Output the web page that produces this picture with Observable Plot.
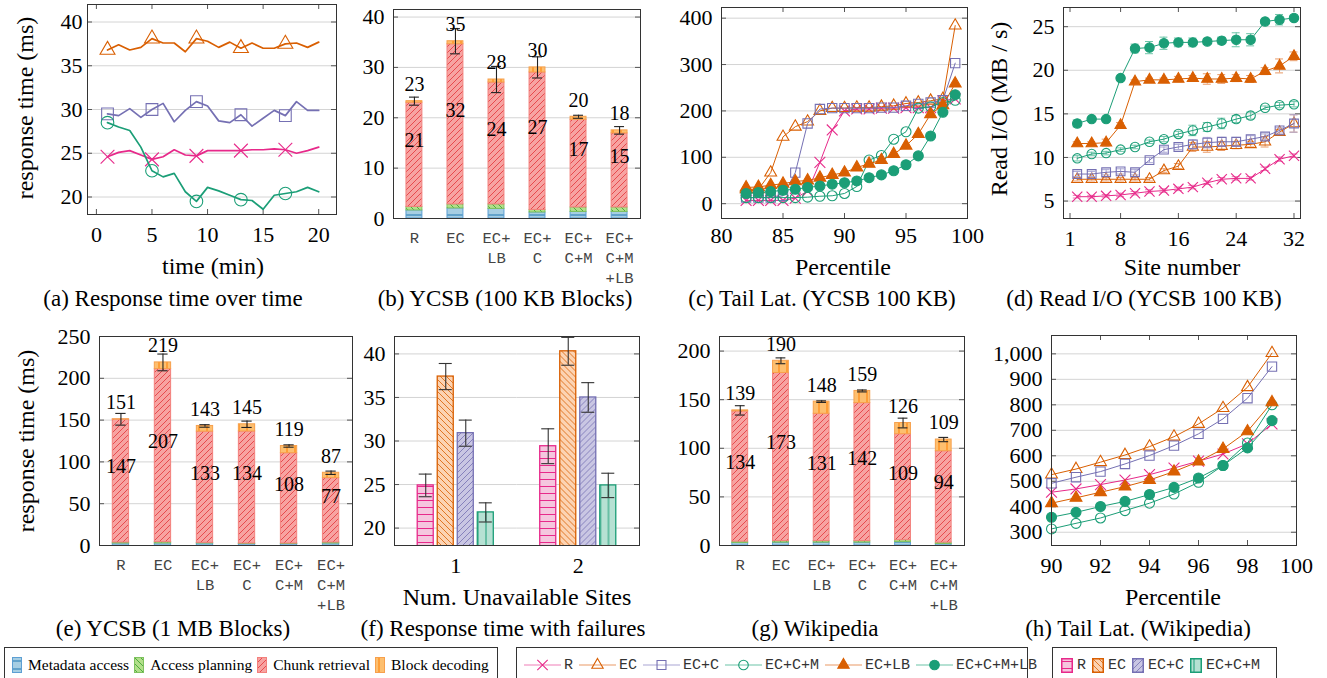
<!DOCTYPE html>
<html>
<head>
<meta charset="utf-8">
<script src="https://cdn.jsdelivr.net/npm/d3@7"></script>
<script src="https://cdn.jsdelivr.net/npm/@observablehq/plot@0.6"></script>
<style>
html,body{margin:0;padding:0;background:#fff;}
#root{position:relative;width:1327px;height:678px;overflow:hidden;background:#fff;font-family:"Liberation Serif","Times New Roman",serif;color:#000;}
.frame{position:absolute;border:1px solid #333;box-sizing:border-box;pointer-events:none;}
.lbl{position:absolute;white-space:nowrap;line-height:1;}
.leg{position:absolute;border:1px solid #333;box-sizing:border-box;display:flex;align-items:center;padding-bottom:8px;}
.item{display:flex;align-items:center;white-space:nowrap;}
.item svg{display:block;}
</style>
</head>
<body>
<svg width="0" height="0" style="position:absolute">
<defs>
 <pattern id="hMeta" patternUnits="userSpaceOnUse" width="8" height="8">
  <rect width="8" height="8" fill="#a6cee3"/><path d="M0 4H8" stroke="#1f78b4" stroke-width="1"/>
 </pattern>
 <pattern id="hPlan" patternUnits="userSpaceOnUse" width="6" height="6">
  <rect width="6" height="6" fill="#b2df8a"/><path d="M0 0L6 6M-1 5L1 7M5 -1L7 1" stroke="#33a02c" stroke-width="0.8"/>
 </pattern>
 <pattern id="hChunk" patternUnits="userSpaceOnUse" width="6" height="6">
  <rect width="6" height="6" fill="#f7a3a1"/><path d="M0 6L6 0M-1 1L1 -1M5 7L7 5" stroke="#e0242a" stroke-width="0.7"/>
 </pattern>
 <pattern id="hDec" patternUnits="userSpaceOnUse" width="8" height="8">
  <rect width="8" height="8" fill="#fdbf6f"/><path d="M4 0V8" stroke="#ff7f00" stroke-width="1"/>
 </pattern>
 <pattern id="fR" patternUnits="userSpaceOnUse" width="8" height="7">
  <rect width="8" height="7" fill="#f5c6de"/><path d="M0 3.5H8" stroke="#e7298a" stroke-width="1"/>
 </pattern>
 <pattern id="fEC" patternUnits="userSpaceOnUse" width="6" height="6">
  <rect width="6" height="6" fill="#fcd3b2"/><path d="M0 0L6 6M-1 5L1 7M5 -1L7 1" stroke="#d95f02" stroke-width="0.8"/>
 </pattern>
 <pattern id="fECC" patternUnits="userSpaceOnUse" width="6" height="6">
  <rect width="6" height="6" fill="#c9c6e3"/><path d="M0 6L6 0M-1 1L1 -1M5 7L7 5" stroke="#7570b3" stroke-width="0.8"/>
 </pattern>
 <pattern id="fECCM" patternUnits="userSpaceOnUse" width="8" height="8">
  <rect width="8" height="8" fill="#b6e1d3"/><path d="M4 0V8" stroke="#1b9e77" stroke-width="1"/>
 </pattern>
</defs>
</svg>
<div id="root"></div>
<script>
// ======================= DATA =======================
// (a) response time over time
const aTime = [1,2,3,4,5,6,7,8,9,10,11,12,13,14,15,16,17,18,19,20];
const aR    = [24.6,25.1,25.3,24.8,24.3,24.6,25.4,24.8,24.7,25.3,25.3,25.3,25.3,25.4,25.4,25.5,25.4,25.0,25.3,25.7];
const aEC   = [36.8,37.4,36.8,37.1,38.1,37.6,37.6,36.6,38.1,37.8,37.1,37.7,37.0,37.6,37.0,37.0,37.5,37.6,37.1,37.7];
const aECC  = [29.5,29.3,30.1,29.1,30.0,30.7,28.6,29.9,30.9,30.4,28.7,28.5,29.4,28.1,29.0,29.9,29.3,30.9,29.9,29.9];
const aECCM = [28.5,28.0,27.6,25.7,23.0,22.3,22.7,20.6,19.5,21.1,20.7,20.2,19.7,19.6,18.6,20.2,20.4,20.6,21.1,20.6];
const aXTicks = [0,5,10,15,20];
const aYTicks = [20,25,30,35,40];

// stacked bar panels (b), (e), (g)
const barCats = ["R","EC","EC+LB","EC+C","EC+C+M","EC+C+M+LB"];
const barCatLabels = ["R","EC","EC+\nLB","EC+\nC","EC+\nC+M","EC+\nC+M\n+LB"];
const compNames = ["Metadata access","Access planning","Chunk retrieval","Block decoding"];

// (b) YCSB 100 KB
const bMeta  = [1.6,2.0,1.9,1.2,1.3,1.3];
const bPlan  = [0.7,0.8,0.9,0.5,0.9,0.9];
const bChunk = [20.7,31.8,24.2,27.3,17.4,14.7];
const bDec   = [0.3,0.6,0.6,1.0,0.6,0.6];
const bErr   = [0.8,2.5,2.6,2.1,0.3,0.75];
const bTotalLbl = ["23","35","28","30","20","18"];
const bChunkLbl = ["21","32","24","27","17","15"];
const bYTicks = [0,10,20,30,40];

// (e) YCSB 1 MB
const eMeta  = [2.4,2.5,2.4,1.8,1.8,2.4];
const ePlan  = [1.2,1.5,0.8,0.6,0.6,1.2];
const eChunk = [147,207,133,134,108,77];
const eDec   = [0.4,8.0,6.8,8.6,8.6,6.4];
const eErr   = [7,10,1.5,3.8,1.4,2];
const eTotalLbl = ["151","219","143","145","119","87"];
const eChunkLbl = ["147","207","133","134","108","77"];
const eYTicks = [0,50,100,150,200,250];

// (g) Wikipedia
const gMeta  = [2.5,3.0,3.0,3.0,3.5,1.5];
const gPlan  = [1.5,1.5,1.5,1.5,2.0,1.5];
const gChunk = [134,173,131,142,109,94];
const gDec   = [1.0,12.5,12.5,12.5,11.5,12.0];
const gErr   = [4.8,3,0.8,1,5,2.2];
const gTotalLbl = ["139","190","148","159","126","109"];
const gChunkLbl = ["134","173","131","142","109","94"];
const gYTicks = [0,50,100,150,200];

// (c) tail latency YCSB 100 KB
const cPct = [82,83,84,85,86,87,88,89,90,91,92,93,94,95,96,97,98,99];
const cR      = [7,7,7,7,12,27,89,159,200,204,204,206,206,207,207,207,222,226];
const cEC     = [31,31,67,144,166,177,200,206,206,207,207,209,211,216,218,222,226,384];
const cECC    = [13,13,13,17,67,173,204,206,206,206,206,207,207,211,215,218,223,303];
const cECCM   = [13,13,13,13,13,14,16,17,22,37,94,104,139,155,206,209,218,223];
const cECLB   = [35,36,40,43,48,50,56,62,67,78,86,94,107,125,150,193,212,259];
const cECCMLB = [22,24,26,29,31,35,38,42,45,49,56,62,71,84,103,146,197,235];
const cXTicks = [80,85,90,95,100];
const cYTicks = [0,100,200,300,400];

// (d) read I/O per site
const dSite = [2,4,6,8,10,12,14,16,18,20,22,24,26,28,30,32];
const dR      = [5.5,5.5,5.6,5.7,5.9,6.1,6.2,6.4,6.6,7.1,7.5,7.6,7.6,8.7,9.8,10.2];
const dEC     = [7.5,7.5,7.5,7.5,7.5,7.5,8.5,9.0,11.2,11.2,11.3,11.4,11.5,11.8,12.9,13.9];
const dECC    = [8.1,8.1,8.3,8.4,8.3,9.7,10.9,11.2,11.5,11.7,11.8,11.8,12.1,12.4,13.1,13.9];
const dECCM   = [9.9,10.4,10.5,10.9,11.2,11.8,12.1,12.7,13.1,13.5,13.9,14.4,14.8,15.7,16.0,16.1];
const dECLB   = [11.6,11.6,11.7,13.7,18.7,18.9,18.9,19.0,19.1,19.0,19.0,19.1,19.0,19.9,20.5,21.6];
const dECCMLB = [13.9,14.4,14.4,19.1,22.5,22.6,23.1,23.2,23.2,23.3,23.4,23.5,23.5,25.6,25.8,26.0];
const dRErr      = [0.15,0.15,0.15,0.2,0.2,0.2,0.2,0.2,0.2,0.2,0.2,0.2,0.2,0.2,0.25,0.2];
const dECErr     = [0.2,0.2,0.2,0.2,0.2,0.2,0.2,0.3,0.5,0.6,0.5,0.4,0.3,0.6,0.3,1.0];
const dECCErr    = [0.3,0.3,0.3,0.3,0.3,0.3,0.3,0.3,0.5,0.6,0.5,0.5,0.4,0.3,0.3,1.0];
const dECCMErr   = [0.3,0.2,0.2,0.2,0.2,0.2,0.3,0.3,0.6,0.5,0.6,0.4,0.4,0.2,0.3,0.3];
const dECLBErr   = [0.2,0.2,0.4,0.3,0.2,0.2,0.2,0.3,0.3,0.6,0.5,0.4,0.4,0.4,0.8,0.5];
const dECCMLBErr = [0.4,0.2,0.2,0.2,0.5,0.7,0.7,0.5,0.5,0.3,0.4,0.8,0.7,0.2,0.6,0.3];
const dXTicks = [1,8,16,24,32];
const dYTicks = [5,10,15,20,25];

// (f) response time with failures
const fGroups = [1,2];
const fSeries = ["R","EC","EC+C","EC+C+M"];
const fVals1 = [24.9,37.4,30.9,21.8];
const fErr1  = [1.3,1.5,1.5,1.1];
const fVals2 = [29.4,40.3,35.0,24.9];
const fErr2  = [2.0,1.6,1.7,1.4];
const fYTicks = [20,25,30,35,40];

// (h) tail latency Wikipedia
const hPct = [90,91,92,93,94,95,96,97,98,99];
const hR      = [457,470,487,505,526,552,579,607,647,725];
const hEC     = [526,548,575,603,636,675,725,787,869,1003];
const hECC    = [492,516,538,568,601,640,686,745,826,950];
const hECCM   = [313,335,356,385,414,450,496,562,650,800];
const hECLB   = [414,435,457,479,505,538,577,627,696,810];
const hECCMLB = [359,378,401,421,448,476,513,562,631,738];
const hXTicks = [90,92,94,96,98,100];
const hYTicks = [300,400,500,600,700,800,900,1000];

const seriesAllNames = ["R","EC","EC+C","EC+C+M","EC+LB","EC+C+M+LB"];

// ======================= STYLE =======================
const SERIF = '"Liberation Serif","Times New Roman",serif';
const MONO = '"Liberation Mono","Courier New",monospace';
const STY = {
  "R":         {color:"#e7298a", light:"#ef7fb8", symbol:"times",    fill:"none"},
  "EC":        {color:"#d95f02", light:"#e99a66", symbol:"triangle", fill:"none"},
  "EC+C":      {color:"#7570b3", light:"#a9a5d3", symbol:"square",   fill:"none"},
  "EC+C+M":    {color:"#1b9e77", light:"#6cc4a8", symbol:"circle",   fill:"none"},
  "EC+LB":     {color:"#d95f02", light:"#e99a66", symbol:"triangle", fill:"#d95f02"},
  "EC+C+M+LB": {color:"#1b9e77", light:"#6cc4a8", symbol:"circle",   fill:"#1b9e77"}
};
const SYMK = {times: 1.0, triangle: 0.88, square: 1.05, circle: 1.0};
const COMP = [
  {fill:"url(#hMeta)",  stroke:"#5d9fd3"},
  {fill:"url(#hPlan)",  stroke:"#7fc25f"},
  {fill:"url(#hChunk)", stroke:"#f3807c"},
  {fill:"url(#hDec)",   stroke:"#f7a04c"}
];
const FPAT = {"R":"url(#fR)","EC":"url(#fEC)","EC+C":"url(#fECC)","EC+C+M":"url(#fECCM)"};
const GRID = "#d4d4d4", TICK = "#555";

const root = document.getElementById("root");

function addPlot(frame, opts, pad = {l: 80, r: 14, t: 14, b: 90}) {
  const [fl, ft, fr, fb] = frame;
  const w = fr - fl, h = fb - ft;
  const svg = Plot.plot({
    width: w + pad.l + pad.r, height: h + pad.t + pad.b,
    marginLeft: pad.l, marginRight: pad.r, marginTop: pad.t, marginBottom: pad.b,
    style: {background: "transparent", overflow: "visible", fontFamily: SERIF, fontSize: "22px", color: "#000"},
    ...opts
  });
  svg.style.position = "absolute";
  svg.style.left = (fl - pad.l) + "px";
  svg.style.top = (ft - pad.t) + "px";
  root.appendChild(svg);
  const fd = document.createElement("div");
  fd.className = "frame";
  Object.assign(fd.style, {left: fl + "px", top: ft + "px", width: (w + 1) + "px", height: (h + 1) + "px"});
  root.appendChild(fd);
}

function innerTicks(xTicks, yTicks, w, h) {
  const m = [];
  if (yTicks) m.push(
    Plot.tickY(yTicks, {y: d => d, insetRight: w - 5, stroke: TICK}),
    Plot.tickY(yTicks, {y: d => d, insetLeft: w - 5, stroke: TICK}));
  if (xTicks) m.push(
    Plot.tickX(xTicks, {x: d => d, insetBottom: h - 5, stroke: TICK}),
    Plot.tickX(xTicks, {x: d => d, insetTop: h - 5, stroke: TICK}));
  return m;
}

function linePanel({frame, xDomain, yDomain, xTicks, yTicks, xVals, series, r, sw, every = 1, capHalf = 0, xPad, yPad, yFormat}) {
  const [fl, ft, fr, fb] = frame;
  const w = fr - fl, h = fb - ft;
  const marks = [Plot.gridY(yTicks, {stroke: GRID, strokeOpacity: 1}), ...innerTicks(xTicks, yTicks, w, h)];
  series.forEach(s => {
    const st = STY[s.name];
    const data = xVals.map((x, i) => ({x, y: s.vals[i], e: s.errs ? s.errs[i] : 0, i}));
    if (s.errs) {
      marks.push(
        Plot.ruleX(data, {x: "x", y1: d => d.y - d.e, y2: d => d.y + d.e, stroke: st.light}),
        Plot.ruleY(data, {y: d => d.y + d.e, x1: d => d.x - capHalf, x2: d => d.x + capHalf, stroke: st.light}),
        Plot.ruleY(data, {y: d => d.y - d.e, x1: d => d.x - capHalf, x2: d => d.x + capHalf, stroke: st.light}));
    }
    marks.push(Plot.line(data, {x: "x", y: "y", stroke: st.color, strokeWidth: sw}));
    marks.push(Plot.dot(data.filter(d => d.i % every === 0), {
      x: "x", y: "y", symbol: st.symbol, r: r * SYMK[st.symbol],
      stroke: st.color, fill: st.fill, strokeWidth: 1.1
    }));
  });
  marks.push(
    Plot.axisX(xTicks, {tickSize: 0, tickPadding: xPad, label: null}),
    Plot.axisY(yTicks, {tickSize: 0, tickPadding: yPad, label: null, tickFormat: yFormat})
  );
  addPlot(frame, {x: {domain: xDomain}, y: {domain: yDomain}, marks});
}

function barPanel({frame, yDomain, yTicks, comps, errs, totalLbl, chunkLbl}) {
  const [fl, ft, fr, fb] = frame;
  const w = fr - fl, h = fb - ft;
  const segs = [], rows = [];
  barCats.forEach((c, i) => {
    let acc = 0, chunkMid = 0;
    comps.forEach((arr, k) => {
      const y1 = acc; acc += arr[i];
      segs.push({cat: c, k, y1, y2: acc});
      if (k === 2) chunkMid = (y1 + acc) / 2;
    });
    rows.push({cat: c, total: acc, err: errs[i], tl: totalLbl[i], cl: chunkLbl[i], mid: chunkMid});
  });
  const marks = [Plot.gridY(yTicks, {stroke: GRID, strokeOpacity: 1}), ...innerTicks(null, yTicks, w, h)];
  COMP.forEach((cs, k) => {
    marks.push(Plot.barY(segs.filter(s => s.k === k), {x: "cat", y1: "y1", y2: "y2", fill: cs.fill, stroke: cs.stroke, strokeWidth: 1}));
  });
  marks.push(
    Plot.ruleX(rows, {x: "cat", y1: d => d.total - d.err, y2: d => d.total + d.err, stroke: "#222", strokeWidth: 1.1}),
    Plot.tickY(rows, {x: "cat", y: d => d.total + d.err, insetLeft: 3, insetRight: 3, stroke: "#222", strokeWidth: 1.1}),
    Plot.tickY(rows, {x: "cat", y: d => d.total - d.err, insetLeft: 3, insetRight: 3, stroke: "#222", strokeWidth: 1.1}),
    Plot.text(rows, {x: "cat", y: "total", text: "tl", dy: -16.5, fontSize: 20}),
    Plot.text(rows, {x: "cat", y: "mid", text: "cl", dy: -14, fontSize: 20}),
    Plot.axisX({tickSize: 0, tickPadding: 10, label: null, fontFamily: MONO, fontSize: 15.5, lineHeight: 1.29,
      tickFormat: d => barCatLabels[barCats.indexOf(d)], fill: "#444"}),
    Plot.axisY(yTicks, {tickSize: 0, tickPadding: 9, label: null})
  );
  addPlot(frame, {
    x: {type: "band", domain: barCats, paddingInner: 0.612, paddingOuter: 0.316, round: false},
    y: {domain: yDomain},
    marks
  });
}

// ======================= PANELS =======================
// (a)
linePanel({
  frame: [87, 4, 336, 214], xDomain: [-0.8, 21.6], yDomain: [18, 42],
  xTicks: aXTicks, yTicks: aYTicks, xVals: aTime,
  series: [{name: "R", vals: aR}, {name: "EC", vals: aEC}, {name: "EC+C", vals: aECC}, {name: "EC+C+M", vals: aECCM}],
  r: 6.3, sw: 1.7, every: 4, xPad: 12, yPad: 5
});
// (b)
barPanel({frame: [393, 9, 640, 218], yDomain: [0, 41.5], yTicks: bYTicks,
  comps: [bMeta, bPlan, bChunk, bDec], errs: bErr, totalLbl: bTotalLbl, chunkLbl: bChunkLbl});
// (c)
linePanel({
  frame: [721, 7, 967, 218], xDomain: [80, 100], yDomain: [-32, 423],
  xTicks: cXTicks, yTicks: cYTicks, xVals: cPct,
  series: [{name: "R", vals: cR}, {name: "EC", vals: cEC}, {name: "EC+C", vals: cECC},
           {name: "EC+C+M", vals: cECCM}, {name: "EC+LB", vals: cECLB}, {name: "EC+C+M+LB", vals: cECCMLB}],
  r: 5.0, sw: 1, xPad: 9, yPad: 9
});
// (d)
linePanel({
  frame: [1063, 7, 1300, 218], xDomain: [0.1, 32.9], yDomain: [3.0, 27.2],
  xTicks: dXTicks, yTicks: dYTicks, xVals: dSite,
  series: [{name: "R", vals: dR, errs: dRErr}, {name: "EC", vals: dEC, errs: dECErr}, {name: "EC+C", vals: dECC, errs: dECCErr},
           {name: "EC+C+M", vals: dECCM, errs: dECCMErr}, {name: "EC+LB", vals: dECLB, errs: dECLBErr}, {name: "EC+C+M+LB", vals: dECCMLB, errs: dECCMLBErr}],
  r: 4.7, sw: 1, capHalf: 0.55, xPad: 12, yPad: 9
});
// (e)
barPanel({frame: [99, 336, 352, 545], yDomain: [0, 250], yTicks: eYTicks,
  comps: [eMeta, ePlan, eChunk, eDec], errs: eErr, totalLbl: eTotalLbl, chunkLbl: eChunkLbl});
// (f)
(function () {
  const frame = [394, 336, 639, 545];
  const [fl, ft, fr, fb] = frame;
  const w = fr - fl, h = fb - ft;
  const fData = [];
  fGroups.forEach((g, gi) => {
    const vals = gi === 0 ? fVals1 : fVals2, errs = gi === 0 ? fErr1 : fErr2;
    fSeries.forEach((s, si) => fData.push({g, s, v: vals[si], e: errs[si]}));
  });
  const facetW = w / 2;
  const marks = [
    Plot.gridY(fYTicks, {stroke: GRID, strokeOpacity: 1}),
    Plot.tickY(fYTicks, {y: d => d, insetRight: facetW - 5, stroke: TICK, facetAnchor: "left"}),
    Plot.tickY(fYTicks, {y: d => d, insetLeft: facetW - 5, stroke: TICK, facetAnchor: "right"}),
    Plot.barY(fData, {fx: "g", x: "s", y: "v", fill: d => FPAT[d.s], stroke: d => STY[d.s].color, strokeWidth: 1.3, clip: true}),
    Plot.ruleX(fData, {fx: "g", x: "s", y1: d => d.v - d.e, y2: d => d.v + d.e, stroke: "#333", strokeWidth: 1.1}),
    Plot.tickY(fData, {fx: "g", x: "s", y: d => d.v + d.e, insetLeft: 1.5, insetRight: 1.5, stroke: "#333", strokeWidth: 1.1}),
    Plot.tickY(fData, {fx: "g", x: "s", y: d => d.v - d.e, insetLeft: 1.5, insetRight: 1.5, stroke: "#333", strokeWidth: 1.1}),
    Plot.axisFx({anchor: "bottom", tickSize: 0, tickPadding: 12, label: null}),
    Plot.axisY(fYTicks, {tickSize: 0, tickPadding: 9, label: null})
  ];
  addPlot(frame, {
    fx: {domain: fGroups, padding: 0, round: false},
    x: {type: "band", domain: fSeries, paddingInner: 0.2, paddingOuter: 1.16, round: false, axis: null},
    y: {domain: [18, 42]},
    marks
  });
})();
// (g)
barPanel({frame: [719, 336, 964, 545], yDomain: [0, 215], yTicks: gYTicks,
  comps: [gMeta, gPlan, gChunk, gDec], errs: gErr, totalLbl: gTotalLbl, chunkLbl: gChunkLbl});
// (h)
linePanel({
  frame: [1051, 335, 1296, 545], xDomain: [90, 100], yDomain: [248, 1072],
  xTicks: hXTicks, yTicks: hYTicks, xVals: hPct,
  series: [{name: "R", vals: hR}, {name: "EC", vals: hEC}, {name: "EC+C", vals: hECC},
           {name: "EC+C+M", vals: hECCM}, {name: "EC+LB", vals: hECLB}, {name: "EC+C+M+LB", vals: hECCMLB}],
  r: 5.0, sw: 1, xPad: 12, yPad: 9, yFormat: d3.format(",")
});

// ======================= TEXT LABELS =======================
function label(text, cx, cy, size, rot) {
  const d = document.createElement("div");
  d.className = "lbl";
  d.textContent = text;
  d.style.fontSize = size + "px";
  d.style.left = cx + "px";
  d.style.top = cy + "px";
  d.style.transform = "translate(-50%,-50%)" + (rot ? " rotate(-90deg)" : "");
  root.appendChild(d);
}
const AX = 24, CAP = 23;
label("response time (ms)", 25, 108, AX, true);
label("time (min)", 213, 266, AX);
label("Percentile", 843, 267, AX);
label("Read I/O (MB / s)", 999, 109, AX, true);
label("Site number", 1182, 267, AX);
label("response time (ms)", 26, 441, AX, true);
label("Num. Unavailable Sites", 517, 597, AX);
label("Percentile", 1173, 597, AX);
label("(a) Response time over time", 173, 298, CAP);
label("(b) YCSB (100 KB Blocks)", 505, 298, CAP);
label("(c) Tail Lat. (YCSB 100 KB)", 822, 298, CAP);
label("(d) Read I/O (YCSB 100 KB)", 1144, 298, CAP);
label("(e) YCSB (1 MB Blocks)", 173, 628, CAP);
label("(f) Response time with failures", 503, 628, CAP);
label("(g) Wikipedia", 815, 628, CAP);
label("(h) Tail Lat. (Wikipedia)", 1138, 628, CAP);

// ======================= LEGENDS =======================
function legBox(left, width, font, size, gap, padL) {
  const d = document.createElement("div");
  d.className = "leg";
  Object.assign(d.style, {left: left + "px", top: "647px", width: width + "px", height: "44px",
    fontFamily: font, fontSize: size + "px", gap: gap + "px", paddingLeft: padL + "px"});
  root.appendChild(d);
  return d;
}
function addItem(box, svgHTML, text, sp, color) {
  const it = document.createElement("div");
  it.className = "item";
  it.innerHTML = svgHTML + `<span style="margin-left:${sp}px;color:${color || "#000"}">${text}</span>`;
  box.appendChild(it);
}
const L1 = legBox(4, 494, SERIF, 15.5, 5, 7);
compNames.forEach((n, k) => addItem(L1,
  `<svg width="10" height="16"><rect x="0.5" y="0.5" width="9" height="15" fill="${COMP[k].fill}" stroke="${COMP[k].stroke}"/></svg>`, n, 6));

const L2 = legBox(516, 512, MONO, 15, 6, 7);
seriesAllNames.forEach(n => {
  const st = STY[n];
  const type = {times: d3.symbolTimes, triangle: d3.symbolTriangle, square: d3.symbolSquare, circle: d3.symbolCircle}[st.symbol];
  const rr = 4.8 * SYMK[st.symbol];
  const p = d3.symbol(type, Math.PI * rr * rr)();
  addItem(L2, `<svg width="37" height="16"><line x1="0" x2="37" y1="8" y2="8" stroke="${st.light}" stroke-width="1.2"/><path transform="translate(18.5,8)" d="${p}" fill="${st.fill}" stroke="${st.color}" stroke-width="1.1"/></svg>`, n, 3, "#333");
});

const L3 = legBox(1052, 225, MONO, 15, 6, 8);
fSeries.forEach(n => addItem(L3,
  `<svg width="12" height="15"><rect x="0.75" y="0.75" width="10.5" height="13.5" fill="${FPAT[n]}" stroke="${STY[n].color}" stroke-width="1.5"/></svg>`, n, 4, "#333"));
</script>
</body>
</html>
